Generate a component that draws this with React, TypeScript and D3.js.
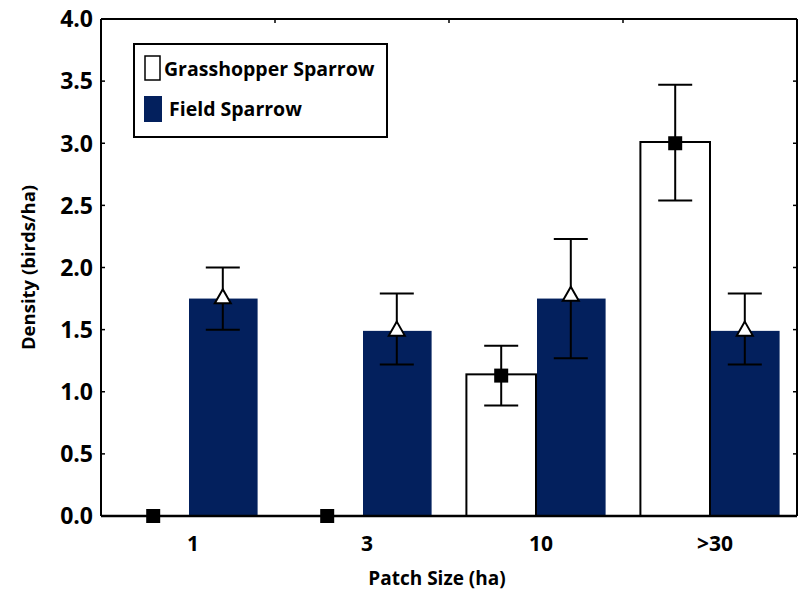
import React from "react";
import * as d3 from "d3";

const categories = ["1", "3", "10", ">30"];
const seriesNames = ["Grasshopper Sparrow", "Field Sparrow"];
const grasshopperMean = [0, 0, 1.13, 3.0];
const grasshopperBar = [0, 0, 1.14, 3.01];
const grasshopperLow = [0, 0, 0.89, 2.54];
const grasshopperHigh = [0, 0, 1.37, 3.47];
const fieldBar = [1.75, 1.49, 1.75, 1.49];
const fieldMean = [1.76, 1.5, 1.78, 1.5];
const fieldLow = [1.5, 1.22, 1.27, 1.22];
const fieldHigh = [2.0, 1.79, 2.23, 1.79];
const yTicks = [0, 0.5, 1.0, 1.5, 2.0, 2.5, 3.0, 3.5, 4.0];

const W = 799, H = 590;
const M = { left: 101, right: 797, top: 19, bottom: 516 };
const NAVY = "#03205d";
const FONT = "'Open Sans', sans-serif";

export default function App() {
  const x = d3.scaleBand<string>().domain(categories).range([M.left, M.right]);
  const inner = d3.scaleBand<string>().domain(seriesNames).range([0, x.bandwidth()]).paddingOuter(0.25).paddingInner(0);
  const y = d3.scaleLinear().domain([0, 4]).range([M.bottom, M.top]);
  const bw = inner.bandwidth();
  const cap = 17;

  const tri = (cx: number, cy: number) => {
    const s = 8;
    return `M${cx},${cy - s} L${cx + s},${cy + s * 0.75} L${cx - s},${cy + s * 0.75} Z`;
  };

  return (
    <svg width={W} height={H} style={{ position: "absolute", left: 0, top: 0, background: "#fff" }}>
      {/* Grasshopper bars */}
      {categories.map((c, i) => {
        const x0 = (x(c) as number) + (inner(seriesNames[0]) as number);
        const h = grasshopperBar[i];
        return h > 0 ? (
          <rect key={"g" + c} x={x0} y={y(h)} width={bw} height={y(0) - y(h)} fill="#fff" stroke="#000" strokeWidth={2} />
        ) : null;
      })}
      {/* Field bars */}
      {categories.map((c, i) => {
        const x0 = (x(c) as number) + (inner(seriesNames[1]) as number) + 1;
        return <rect key={"f" + c} x={x0} y={y(fieldBar[i])} width={bw - 1} height={y(0) - y(fieldBar[i])} fill={NAVY} />;
      })}
      {/* axes frame */}
      <line x1={M.left} x2={M.left} y1={M.top} y2={M.bottom} stroke="#000" strokeWidth={2} />
      <line x1={M.right} x2={M.right} y1={M.top} y2={M.bottom} stroke="#000" strokeWidth={2} />
      <line x1={M.left} x2={M.right} y1={M.top} y2={M.top} stroke="#000" strokeWidth={2} />
      <line x1={M.left} x2={M.right} y1={M.bottom} y2={M.bottom} stroke="#000" strokeWidth={2.5} />
      {yTicks.map((t) => (
        <g key={"yt" + t}>
          <line x1={M.left} x2={M.left + 4} y1={y(t)} y2={y(t)} stroke="#000" strokeWidth={1.5} />
          <line x1={M.right - 4} x2={M.right} y1={y(t)} y2={y(t)} stroke="#000" strokeWidth={1.5} />
          <text x={M.left - 8} y={y(t)} dy="0.36em" textAnchor="end" fontFamily={FONT} fontWeight="bold" fontSize={23} fill="#000">
            {t.toFixed(1)}
          </text>
        </g>
      ))}
      {categories.slice(1).map((c) => (
        <line key={"tt" + c} x1={x(c) as number} x2={x(c) as number} y1={M.top} y2={M.top + 4} stroke="#000" strokeWidth={1.5} />
      ))}
      {categories.map((c) => (
        <text key={"xl" + c} x={(x(c) as number) + x.bandwidth() / 2 + 5} y={551} textAnchor="middle" fontFamily={FONT} fontWeight="bold" fontSize={21} fill="#000">
          {c}
        </text>
      ))}
      {/* Error bars and markers: Grasshopper */}
      {categories.map((c, i) => {
        const cx = (x(c) as number) + (inner(seriesNames[0]) as number) + bw / 2;
        return (
          <g key={"ge" + c}>
            {grasshopperHigh[i] > grasshopperLow[i] && (
              <g stroke="#000" strokeWidth={2}>
                <line x1={cx} x2={cx} y1={y(grasshopperLow[i])} y2={y(grasshopperHigh[i])} />
                <line x1={cx - cap} x2={cx + cap} y1={y(grasshopperLow[i])} y2={y(grasshopperLow[i])} />
                <line x1={cx - cap} x2={cx + cap} y1={y(grasshopperHigh[i])} y2={y(grasshopperHigh[i])} />
              </g>
            )}
            <rect x={cx - 7} y={y(grasshopperMean[i]) - 7} width={14} height={14} fill="#000" />
          </g>
        );
      })}
      {/* Error bars and markers: Field */}
      {categories.map((c, i) => {
        const cx = (x(c) as number) + (inner(seriesNames[1]) as number) + bw / 2;
        return (
          <g key={"fe" + c}>
            <g stroke="#000" strokeWidth={2}>
              <line x1={cx} x2={cx} y1={y(fieldLow[i])} y2={y(fieldHigh[i])} />
              <line x1={cx - cap} x2={cx + cap} y1={y(fieldLow[i])} y2={y(fieldLow[i])} />
              <line x1={cx - cap} x2={cx + cap} y1={y(fieldHigh[i])} y2={y(fieldHigh[i])} />
            </g>
            <path d={tri(cx, y(fieldMean[i]))} fill="#fff" stroke="#000" strokeWidth={2} />
          </g>
        );
      })}
      {/* Legend */}
      <rect x={134} y={44} width={253} height={93} fill="#fff" stroke="#000" strokeWidth={2} />
      <rect x={145} y={56} width={15} height={24} fill="#fff" stroke="#000" strokeWidth={1.5} />
      <text x={164} y={69} dy="0.36em" fontFamily={FONT} fontWeight="bold" fontSize={19.5} fill="#000">{seriesNames[0]}</text>
      <rect x={144} y={96} width={18} height={26} fill={NAVY} />
      <text x={169} y={109} dy="0.36em" fontFamily={FONT} fontWeight="bold" fontSize={19.5} fill="#000">{seriesNames[1]}</text>
      {/* Axis titles */}
      <text x={437} y={578} dy="0.36em" textAnchor="middle" fontFamily={FONT} fontWeight="bold" fontSize={19} fill="#000">Patch Size (ha)</text>
      <text transform={`translate(28,${(M.top + M.bottom) / 2}) rotate(-90)`} dy="0.36em" textAnchor="middle" fontFamily={FONT} fontWeight="bold" fontSize={18.5} fill="#000">Density (birds/ha)</text>
    </svg>
  );
}
